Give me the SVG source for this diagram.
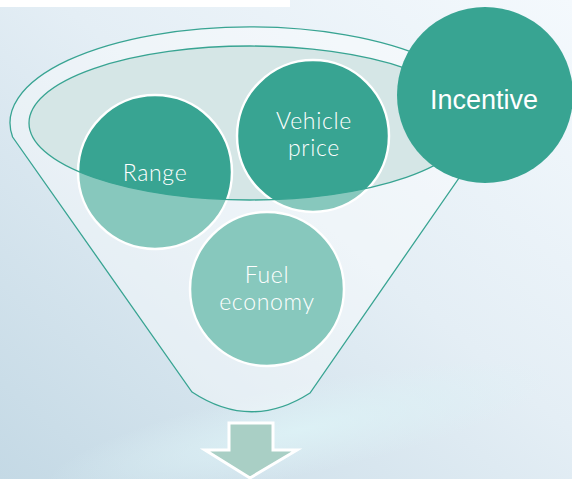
<svg xmlns="http://www.w3.org/2000/svg" width="572" height="479" viewBox="0 0 572 479">
<defs>
<linearGradient id="bg" x1="1" y1="0" x2="0" y2="1">
<stop offset="0" stop-color="#F4F9FD"/>
<stop offset="0.45" stop-color="#E4EEF5"/>
<stop offset="1" stop-color="#C4D9E5"/>
</linearGradient>
<radialGradient id="streak" cx="0.5" cy="0.5" r="0.5">
<stop offset="0" stop-color="#DDF2F6" stop-opacity="0.9"/>
<stop offset="1" stop-color="#DDF2F6" stop-opacity="0"/>
</radialGradient>
<style>
.node{fill:#38A492;stroke:#FFFFFF;stroke-width:2.5}
.lbl{font-family:Lato,"Noto Sans","Liberation Sans",sans-serif;font-weight:300;font-size:23px;fill:#FFFFFF;text-anchor:middle;letter-spacing:0.7px}
.funnel{fill:#FFFFFF;fill-opacity:0.4;fill-rule:evenodd;stroke:#38A492;stroke-width:1.3}
</style>
</defs>
<rect x="0" y="0" width="572" height="479" fill="url(#bg)"/>
<ellipse cx="300" cy="430" rx="260" ry="45" transform="rotate(-12 300 430)" fill="url(#streak)"/>
<rect x="0" y="0" width="290" height="7" fill="#FFFFFF"/>

<g id="funnel-mouth">
<ellipse cx="250" cy="123" rx="221" ry="77" fill="#D5E6E6"/>
</g>

<g id="node-range">
<circle class="node" cx="155" cy="172" r="77"/>
<text class="lbl" x="155" y="181">Range</text>
</g>
<g id="node-vehicle-price">
<circle class="node" cx="313" cy="136" r="76"/>
<text class="lbl" x="314" y="129">Vehicle</text>
<text class="lbl" x="314" y="156">price</text>
</g>
<g id="node-fuel-economy">
<circle class="node" cx="267" cy="289" r="77"/>
<text class="lbl" x="267" y="283">Fuel</text>
<text class="lbl" x="267" y="310">economy</text>
</g>

<g id="funnel">
<path class="funnel" d="M 12.6 137 A 240 96 0 1 1 487.4 137 L 310 393 Q 251 431 192 392 Z M 29 123 A 221 77 0 1 0 471 123 A 221 77 0 1 0 29 123 Z"/>
</g>

<g id="connectors">
<path d="M 229 423 L 273 423 L 273 450 L 297 450 L 250 478 L 205 450 L 229 450 Z" fill="#A9CFC5" stroke="#FFFFFF" stroke-width="3" stroke-linejoin="miter"/>
</g>

<g id="node-incentive">
<circle cx="485" cy="95" r="88" fill="#38A492"/>
<text x="484" y="109" font-family="'Liberation Sans',Arial,sans-serif" font-size="27" fill="#FFFFFF" text-anchor="middle">Incentive</text>
</g>
</svg>
